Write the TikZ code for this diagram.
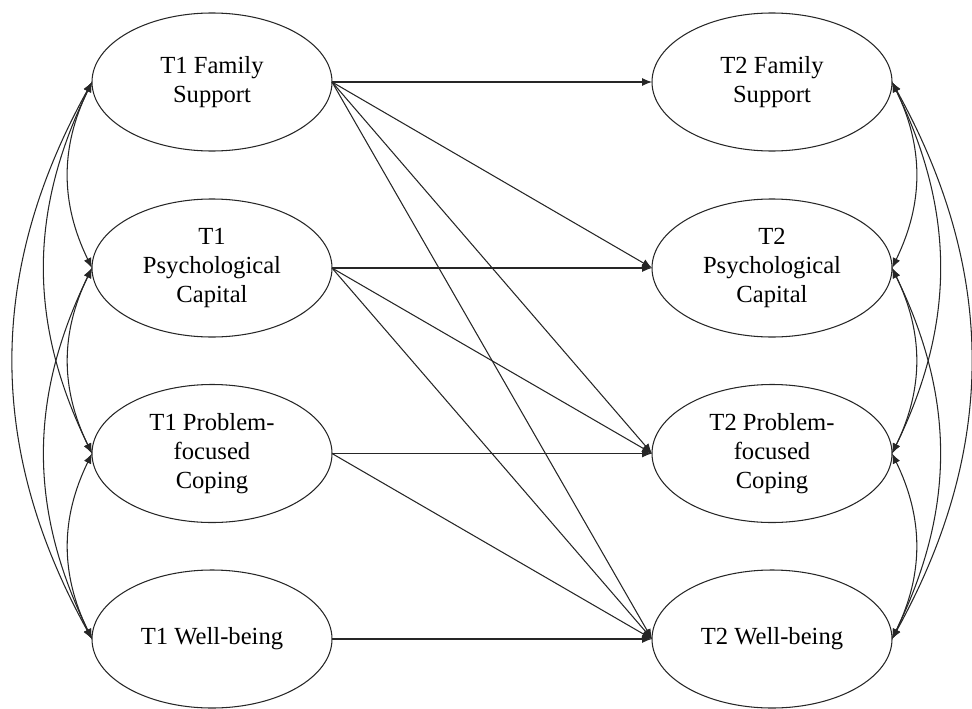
\documentclass[tikz,border=0pt]{standalone}
\usepackage{fontspec}
\setmainfont{Liberation Serif}
\usepackage{xcolor}
\usepackage{tikz}
\usetikzlibrary{shapes.geometric,arrows.meta}
\definecolor{ink}{HTML}{262626}
\tikzset{
  var/.style={draw=ink, ellipse, line width=0.6pt, minimum width=4.8cm, minimum height=2.76cm,
    inner sep=0pt, outer sep=0pt, align=center, font=\fontsize{14}{16.5}\selectfont},
  reg/.style={draw=ink, line width=0.6pt, -{Latex[length=2mm,width=1.6mm]}},
  cov/.style={draw=ink, line width=0.6pt, {Latex[length=2mm,width=1.6mm]}-{Latex[length=2mm,width=1.6mm]}},
}

\begin{document}
\begin{tikzpicture}
  \useasboundingbox (0,0) rectangle (19.44,14.16);
  \def\xa{4.24}
  \def\xb{15.44}

  % time 1
  \node[var] (fs1) at (\xa,12.52) {T1 Family\\Support};
  \node[var] (pc1) at (\xa,8.8) {T1\\Psychological\\Capital};
  \node[var] (pf1) at (\xa,5.09) {T1 Problem-\\focused\\Coping};
  \node[var] (wb1) at (\xa,1.38) {T1 Well-being};

  % time 2
  \node[var] (fs2) at (\xb,12.52) {T2 Family\\Support};
  \node[var] (pc2) at (\xb,8.8) {T2\\Psychological\\Capital};
  \node[var] (pf2) at (\xb,5.09) {T2 Problem-\\focused\\Coping};
  \node[var] (wb2) at (\xb,1.38) {T2 Well-being};

  % paths
  \draw[reg] (fs1.east) -- (fs2.west);
  \draw[reg] (fs1.east) -- (pc2.west);
  \draw[reg] (fs1.east) -- (pf2.west);
  \draw[reg] (fs1.east) -- (wb2.west);
  \draw[reg] (pc1.east) -- (pc2.west);
  \draw[reg] (pc1.east) -- (pf2.west);
  \draw[reg] (pc1.east) -- (wb2.west);
  \draw[reg] (pf1.east) -- (pf2.west);
  \draw[reg] (pf1.east) -- (wb2.west);
  \draw[reg] (wb1.east) -- (wb2.west);

  % covariances, left
  \draw[cov] (fs1.west) to[bend right=26] (pc1.west);
  \draw[cov] (pc1.west) to[bend right=26] (pf1.west);
  \draw[cov] (pf1.west) to[bend right=26] (wb1.west);
  \draw[cov] (fs1.west) to[bend right=26] (pf1.west);
  \draw[cov] (pc1.west) to[bend right=26] (wb1.west);
  \draw[cov] (fs1.west) to[bend right=29] (wb1.west);

  % covariances, right
  \draw[cov] (fs2.east) to[bend left=26] (pc2.east);
  \draw[cov] (pc2.east) to[bend left=26] (pf2.east);
  \draw[cov] (pf2.east) to[bend left=26] (wb2.east);
  \draw[cov] (fs2.east) to[bend left=26] (pf2.east);
  \draw[cov] (pc2.east) to[bend left=26] (wb2.east);
  \draw[cov] (fs2.east) to[bend left=29] (wb2.east);
\end{tikzpicture}
\end{document}
